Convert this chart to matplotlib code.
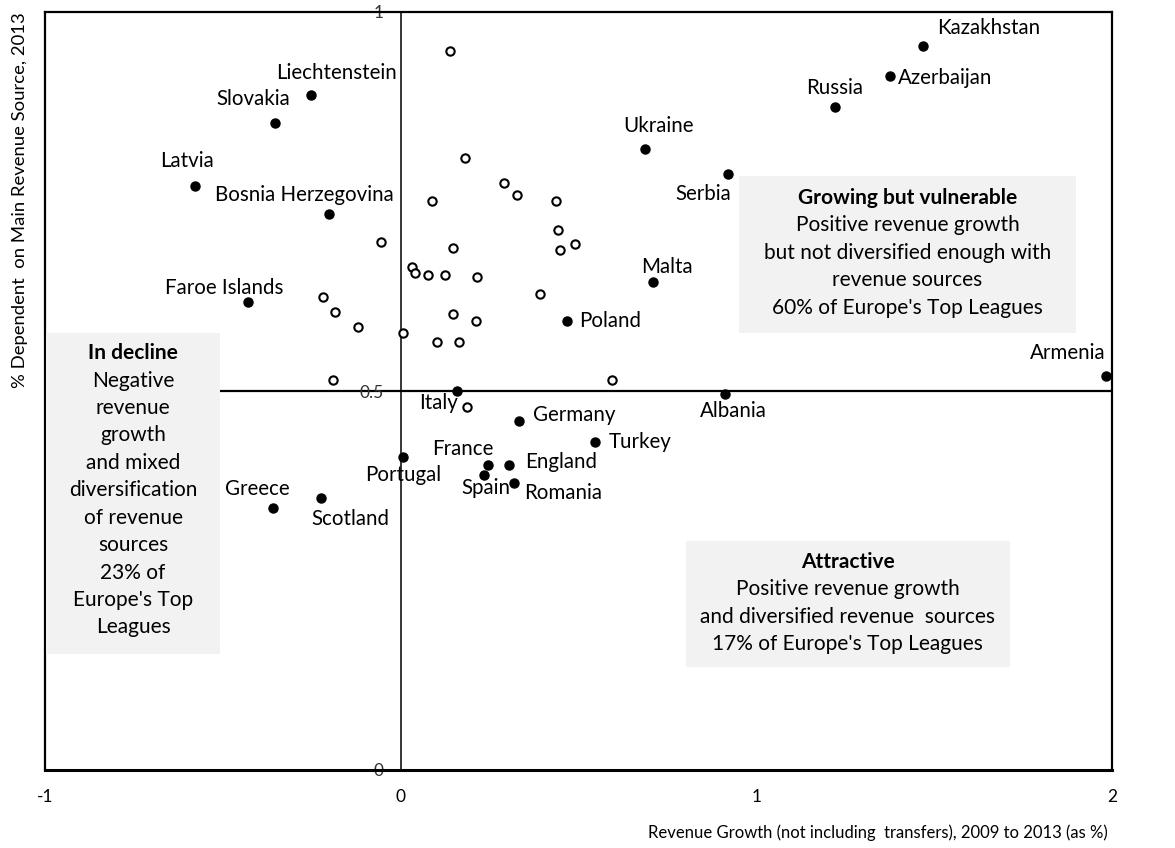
import matplotlib
matplotlib.use('Agg')
import matplotlib.pyplot as plt
from matplotlib.patches import Rectangle

plt.rcParams['font.family'] = ['Lato', 'DejaVu Sans']

# Labelled leagues (filled markers)
countries = ['Kazakhstan', 'Azerbaijan', 'Russia', 'Serbia', 'Ukraine', 'Malta',
             'Poland', 'Armenia', 'Albania', 'Italy', 'Germany', 'Turkey',
             'France', 'England', 'Spain', 'Romania', 'Portugal', 'Greece',
             'Scotland', 'Liechtenstein', 'Slovakia', 'Latvia',
             'Bosnia Herzegovina', 'Faroe Islands']
growth = [1.469, 1.376, 1.220, 0.920, 0.687, 0.710,
          0.467, 1.983, 0.912, 0.157, 0.334, 0.547,
          0.245, 0.304, 0.233, 0.320, 0.007, -0.358,
          -0.225, -0.253, -0.353, -0.578,
          -0.202, -0.428]
dependent = [0.955, 0.916, 0.875, 0.786, 0.819, 0.644,
             0.593, 0.520, 0.496, 0.500, 0.460, 0.433,
             0.403, 0.403, 0.389, 0.378, 0.413, 0.345,
             0.359, 0.890, 0.854, 0.770,
             0.734, 0.618]

# Other leagues (hollow markers)
other_growth = [-0.056, 0.031, 0.040, -0.219, -0.184, -0.121, 0.007, -0.190,
                0.140, 0.182, 0.291, 0.326, 0.088, 0.437, 0.442, 0.489,
                0.448, 0.146, 0.078, 0.125, 0.215, 0.391, 0.146, 0.211,
                0.101, 0.164, 0.593, 0.187]
other_dependent = [0.697, 0.664, 0.656, 0.624, 0.604, 0.585, 0.577, 0.515,
                   0.949, 0.808, 0.775, 0.759, 0.751, 0.751, 0.713, 0.694,
                   0.686, 0.689, 0.653, 0.653, 0.650, 0.628, 0.602, 0.593,
                   0.564, 0.564, 0.515, 0.479]

x_ticks = [-1, 0, 1, 2]
y_ticks = [0, 0.5, 1]

# label placement: (dx px, dy px, ha)
label_pos = {
    'Kazakhstan': (14, 18, 'left'), 'Azerbaijan': (8, -2, 'left'),
    'Russia': (0, 19, 'center'), 'Serbia': (3, -20, 'right'),
    'Ukraine': (13, 23, 'center'), 'Malta': (14, 15, 'center'),
    'Poland': (12, 0, 'left'), 'Armenia': (0, 23, 'right'),
    'Albania': (8, -17, 'center'), 'Italy': (1, -12, 'right'),
    'Germany': (14, 6, 'left'), 'Turkey': (14, 0, 'left'),
    'France': (-25, 16, 'center'), 'England': (16, 3, 'left'),
    'Spain': (2, -13, 'center'), 'Romania': (10, -10, 'left'),
    'Portugal': (0, -18, 'center'), 'Greece': (-16, 19, 'center'),
    'Scotland': (-9, -21, 'left'), 'Liechtenstein': (26, 22, 'center'),
    'Slovakia': (-22, 24, 'center'), 'Latvia': (-8, 25, 'center'),
    'Bosnia Herzegovina': (-24, 19, 'center'), 'Faroe Islands': (-24, 14, 'center'),
}

# quadrant boxes: (x0, x1, y0, y1, first line y, lines)
boxes = [
    (0.951, 1.899, 0.577, 0.784, 0.7546,
     ['Growing but vulnerable', 'Positive revenue growth',
      'but not diversified enough with', 'revenue sources',
      "60% of Europe's Top Leagues"]),
    (0.802, 1.713, 0.136, 0.302, 0.2744,
     ['Attractive', 'Positive revenue growth',
      'and diversified revenue  sources', "17% of Europe's Top Leagues"]),
    (-0.997, -0.508, 0.153, 0.577, 0.550,
     ['In decline', 'Negative', 'revenue', 'growth', 'and mixed',
      'diversification', 'of revenue', 'sources', '23% of',
      "Europe's Top", 'Leagues']),
]

fig = plt.figure(figsize=(11.75, 8.48), dpi=100)
ax = fig.add_axes([45 / 1175, 1 - 770 / 848, 1067 / 1175, 758 / 848])
ax.set_xlim(-1, 2)
ax.set_ylim(0, 1)

# frame + axes crossing at x=0, y=0.5
ax.spines['top'].set_linewidth(1.6)
ax.spines['right'].set_linewidth(1.6)
ax.spines['bottom'].set_linewidth(2.2)
ax.spines['left'].set_position(('data', 0))
ax.spines['left'].set_linewidth(1.1)
ax.axvline(-1, color='black', lw=1.6, clip_on=False, zorder=2)
ax.axhline(0.5, color='black', lw=1.6, zorder=1)

ax.set_xticks(x_ticks)
ax.set_xticklabels([str(t) for t in x_ticks])
ax.set_yticks(y_ticks)
ax.set_yticklabels(['0', '0.5', '1'])
ax.tick_params(axis='x', length=0, pad=14, labelsize=12.5)
ax.tick_params(axis='y', length=0, pad=12, labelsize=12.5, labelcolor='#333333')
for lab in ax.get_yticklabels():
    lab.set_zorder(0)

for x0, x1, y0, y1, ytop, lines in boxes:
    ax.add_patch(Rectangle((x0, y0), x1 - x0, y1 - y0, facecolor='#f2f2f2',
                           edgecolor='none', zorder=3))
    xc = (x0 + x1) / 2
    for i, line in enumerate(lines):
        ax.text(xc, ytop - i * 0.0362, line, ha='center', va='center',
                fontsize=15, fontweight='bold' if i == 0 else 'normal',
                color='black', zorder=4)

ax.plot(other_growth, other_dependent, 'o', ms=6, mfc='white', mec='black',
        mew=1.5, zorder=5, clip_on=False)
ax.plot(growth, dependent, 'o', ms=6.5, color='black', zorder=5, clip_on=False)

for name, gx, dy in zip(countries, growth, dependent):
    dx, ddy, ha = label_pos[name]
    ax.annotate(name, (gx, dy), xytext=(dx, ddy), textcoords='offset pixels',
                ha=ha, va='center', fontsize=14.8, color='black', zorder=6)

fig.text(20 / 1175, 1 - 12 / 848, '% Dependent  on Main Revenue Source, 2013',
         rotation=90, ha='center', va='top', fontsize=13.3)
fig.text(1108 / 1175, 1 - 833 / 848,
         'Revenue Growth (not including  transfers), 2009 to 2013 (as %)',
         ha='right', va='center', fontsize=12)

fig.savefig('out.png', dpi=100)
